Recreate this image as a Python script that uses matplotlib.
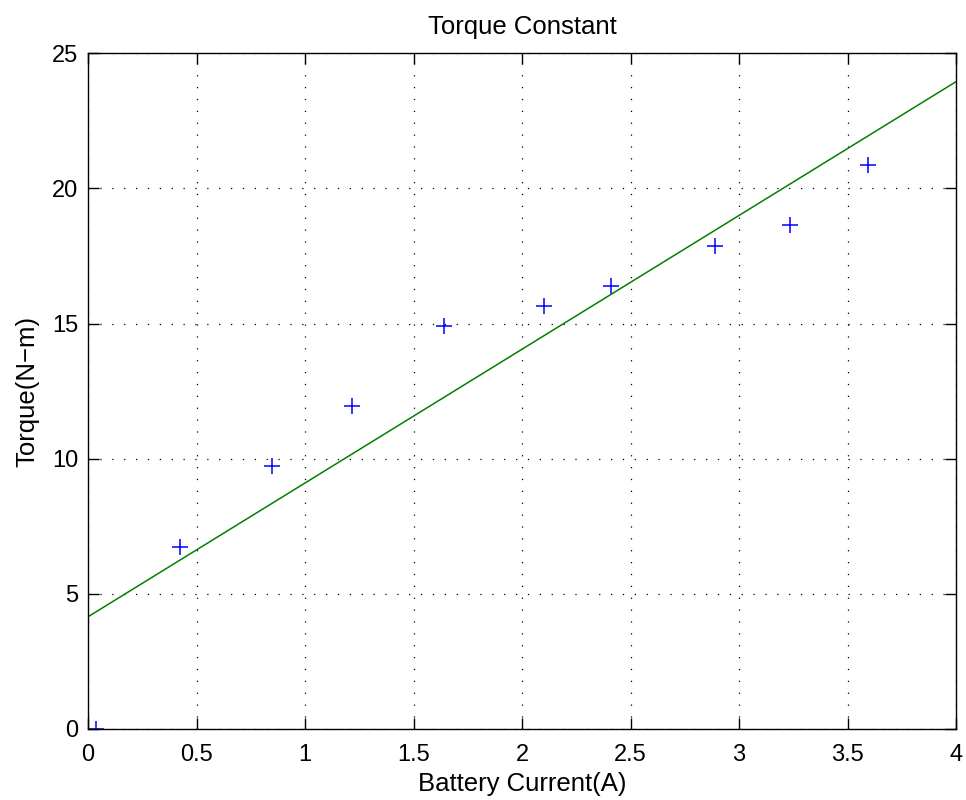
import matplotlib
matplotlib.use('Agg')
import matplotlib.pyplot as plt

plt.rcParams['font.family'] = ['Liberation Sans', 'DejaVu Sans']

# measured data
current = [0.038, 0.425, 0.848, 1.217, 1.639, 2.10, 2.411, 2.891, 3.233, 3.592]
torque = [0.0, 6.72, 9.73, 11.95, 14.91, 15.65, 16.39, 17.88, 18.63, 20.88]

# linear fit end points
fit_x = [0, 4]
fit_y = [4.15, 23.95]

x_ticks = [0, 0.5, 1, 1.5, 2, 2.5, 3, 3.5, 4]
x_labels = ['0', '0.5', '1', '1.5', '2', '2.5', '3', '3.5', '4']
y_ticks = [0, 5, 10, 15, 20, 25]


def main():
    fig = plt.figure(figsize=(9.66, 8), dpi=100)
    ax = fig.add_axes([0.0911, 0.0888, 0.8986, 0.8446])

    ax.plot(current, torque, '+', color='#0000ff', markersize=12, markeredgewidth=1.1)
    ax.plot(fit_x, fit_y, '-', color='#008000', linewidth=1.1)

    ax.set_xlim(0, 4)
    ax.set_ylim(0, 25)
    ax.set_xticks(x_ticks)
    ax.set_xticklabels(x_labels)
    ax.set_yticks(y_ticks)
    ax.tick_params(direction='in', length=8, width=1, labelsize=17,
                   top=True, right=True, pad=11)
    ax.tick_params(axis='y', pad=7)
    ax.grid(True, linestyle=(0, (1, 8.5)), color='black', linewidth=0.9)
    for s in ax.spines.values():
        s.set_linewidth(1.0)

    ax.set_title('Torque Constant', fontsize=18.5, pad=14)
    ax.set_xlabel('Battery Current(A)', fontsize=18.5, labelpad=4)
    ax.set_ylabel('Torque(N\u2212m)', fontsize=18.5, labelpad=9)

    fig.savefig('out.png', dpi=100)
    plt.close(fig)


if __name__ == '__main__':
    main()
